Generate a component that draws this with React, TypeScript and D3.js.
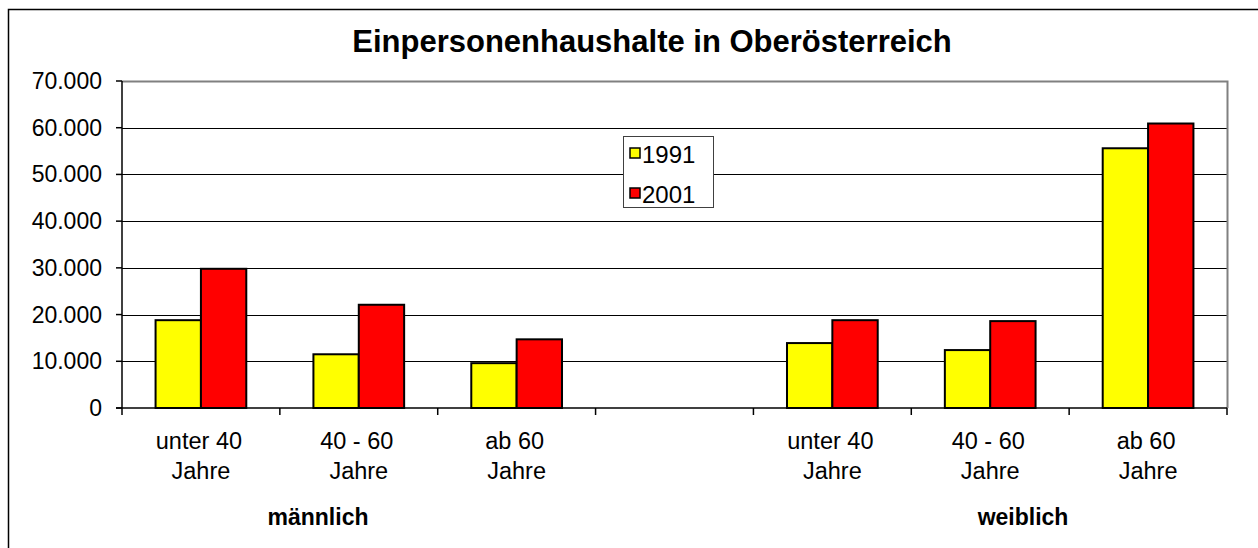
import * as d3 from "d3";

// categories (empty slot separates the two groups)
const categories = ["m1", "m2", "m3", "gap", "w1", "w2", "w3"];
const labelLine1 = ["unter 40", "40 - 60", "ab 60", "", "unter 40", "40 - 60", "ab 60"];
const labelLine2 = ["Jahre", "Jahre", "Jahre", "", "Jahre", "Jahre", "Jahre"];
const series = ["1991", "2001"];
const values1991 = [18800, 11500, 9600, null, 13900, 12400, 55600];
const values2001 = [29800, 22100, 14700, null, 18800, 18600, 60900];
const yTicks = [0, 10000, 20000, 30000, 40000, 50000, 60000, 70000];
const groupLabels = [
  { text: "männlich", x: 318 },
  { text: "weiblich", x: 1023 },
];

const COLORS = { "1991": "#FFFF00", "2001": "#FF0000" };
const FONT = "Arial, 'Liberation Sans', sans-serif";

const W = 1258;
const H = 548;
const plot = { left: 122, right: 1227, top: 81, bottom: 408 };

const fmt = (v: number) => (v === 0 ? "0" : d3.format(",")(v).replace(/,/g, "."));

export default function App() {
  const x0 = d3.scaleBand().domain(categories).range([plot.left, plot.right]).padding(0);
  const x1 = d3
    .scaleBand()
    .domain(series)
    .range([0, x0.bandwidth()])
    .paddingInner(0)
    .paddingOuter(0.74);
  const y = d3.scaleLinear().domain([0, 70000]).range([plot.bottom, plot.top]);

  const rows = categories.map((c, i) => ({
    cat: c,
    vals: [
      { s: "1991", v: values1991[i] },
      { s: "2001", v: values2001[i] },
    ],
  }));

  const boundaries = [...categories.map((c) => x0(c)!), plot.right];

  return (
    <div style={{ position: "absolute", left: 0, top: 0 }}>
      <svg width={W} height={H} style={{ display: "block" }} fontFamily={FONT}>
        <rect x={0} y={0} width={W} height={H} fill="#fff" />
        {/* outer chart frame */}
        <rect x={8.5} y={9.5} width={W + 40} height={H + 40} fill="#fff" stroke="#000" strokeWidth={1.5} />

        <text x={652} y={52} textAnchor="middle" fontSize={31} fontWeight="bold" fill="#000">
          Einpersonenhaushalte in Oberösterreich
        </text>

        {/* gridlines */}
        {yTicks.slice(1, -1).map((t) => (
          <line key={t} x1={plot.left} x2={plot.right} y1={Math.round(y(t)) + 0.5} y2={Math.round(y(t)) + 0.5} stroke="#000" strokeWidth={1} />
        ))}
        {/* plot border top/right */}
        <path
          d={`M${plot.left},${plot.top + 0.5}H${plot.right + 0.5}V${plot.bottom}`}
          fill="none"
          stroke="#808080"
          strokeWidth={2}
        />

        {/* bars */}
        {rows.map((r) =>
          r.vals
            .filter((d) => d.v != null)
            .map((d) => (
              <rect
                key={r.cat + d.s}
                x={x0(r.cat)! + x1(d.s)!}
                y={y(d.v as number)}
                width={x1.bandwidth()}
                height={plot.bottom - y(d.v as number)}
                fill={COLORS[d.s as "1991" | "2001"]}
                stroke="#000"
                strokeWidth={2}
              />
            ))
        )}

        {/* y axis */}
        <line x1={plot.left} x2={plot.left} y1={plot.top} y2={plot.bottom} stroke="#000" strokeWidth={1.5} />
        {yTicks.map((t) => (
          <g key={t}>
            <line x1={plot.left - 6} x2={plot.left} y1={y(t)} y2={y(t)} stroke="#000" strokeWidth={1.5} />
            <text x={plot.left - 20} y={y(t) + 8} textAnchor="end" fontSize={23} fill="#000">
              {fmt(t)}
            </text>
          </g>
        ))}

        {/* x axis */}
        <line x1={plot.left - 6} x2={plot.right} y1={plot.bottom} y2={plot.bottom} stroke="#000" strokeWidth={1.5} />
        {boundaries.map((b, i) => (
          <line key={i} x1={b} x2={b} y1={plot.bottom} y2={plot.bottom + 7} stroke="#000" strokeWidth={1.5} />
        ))}
        {categories.map((c, i) => (
          <text key={c} textAnchor="middle" fontSize={23.5} fill="#000">
            <tspan x={x0(c)! + x0.bandwidth() / 2 - 2} y={449}>
              {labelLine1[i]}
            </tspan>
            <tspan x={x0(c)! + x0.bandwidth() / 2} y={479}>
              {labelLine2[i]}
            </tspan>
          </text>
        ))}
        {groupLabels.map((g) => (
          <text key={g.text} x={g.x} y={525} textAnchor="middle" fontSize={23} fontWeight="bold" fill="#000">
            {g.text}
          </text>
        ))}

        {/* legend */}
        <rect x={623.5} y={136.5} width={90} height={71} fill="#fff" stroke="#404040" strokeWidth={1} />
        {series.map((s, i) => (
          <g key={s}>
            <rect x={630} y={148 + i * 40} width={10} height={10} fill={COLORS[s as "1991" | "2001"]} stroke="#000" strokeWidth={1.5} />
            <text x={642} y={163 + i * 40} fontSize={24} fill="#000">
              {s}
            </text>
          </g>
        ))}
      </svg>
    </div>
  );
}
